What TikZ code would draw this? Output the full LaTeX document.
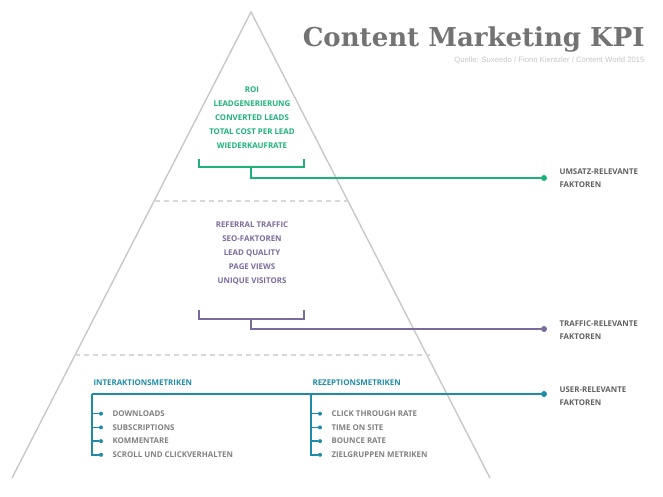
\documentclass[tikz,border=0pt]{standalone}
\usepackage{fontspec}
\setmainfont{Open Sans}
\newfontfamily\titlefont{DejaVu Serif}
\newfontfamily\srcfont{Liberation Sans}
\usetikzlibrary{positioning}
\definecolor{umsatz}{HTML}{1DB27A}
\definecolor{traffic}{HTML}{7B6A9C}
\definecolor{user}{HTML}{1E8CA8}
\definecolor{pyr}{HTML}{C8C8C8}
\definecolor{lbl}{HTML}{606060}

\begin{document}
\begin{tikzpicture}
[x=1pt, y=-1pt, every node/.style={font=\bfseries\fontsize{7.9}{9}\selectfont},
 pyramid line/.style={pyr, line width=1.4pt},
 level line/.style={pyr!70, dashed, dash pattern=on 5pt off 4pt, line width=1.2pt},
 bracket line/.style={line width=1.5pt},
 dot/.style={circle, fill, inner sep=0pt, minimum size=6pt},
 small dot/.style={circle, fill, inner sep=0pt, minimum size=4pt},
 metric/.style={lbl!80, anchor=west},
 factor/.style={lbl, anchor=west, align=left, font=\bfseries\fontsize{7.9}{13}\selectfont}]
    \useasboundingbox (0,0) rectangle (663,496);
    \coordinate (apex) at (251,12);
    \coordinate (bl) at (12,478);
    \coordinate (br) at (490,478);
    \draw[pyramid line] (bl) -- (apex) -- (br);
    \draw[level line] (155,201) -- (347,201);
    \draw[level line] (75,355) -- (430,355);
    % title
    \node[anchor=base east, gray!90!black, font=\titlefont\bfseries\fontsize{26}{28}\selectfont] (title) at (648,46) {Content Marketing KPI};
    \node[anchor=base east, gray!45, font=\srcfont\fontsize{7.7}{8}\selectfont] (source) at (648,62) {Quelle: Suxeedo / Fionn Kientzler / Content World 2015};
    % umsatz
    \foreach \t [count=\i] in {ROI, LEADGENERIERUNG, CONVERTED LEADS, TOTAL COST PER LEAD, WIEDERKAUFRATE}
        \node[umsatz] (u\i) at (252,76+14*\i) {\t};
    \coordinate (ua) at (199,159); \coordinate (ub) at (304,159);
    \coordinate (uc) at (251,167);
    \node[dot, umsatz] (udot) at (544,178) {};
    \draw[bracket line, umsatz] (ua) |- (uc) -| (ub);
    \draw[bracket line, umsatz] (uc) |- (udot);
    \node[factor] (ulbl) at (556,178) {UMSATZ-RELEVANTE\\FAKTOREN};
    % traffic
    \foreach \t [count=\i] in {REFERRAL TRAFFIC, SEO-FAKTOREN, LEAD QUALITY, PAGE VIEWS, UNIQUE VISITORS}
        \node[traffic] (t\i) at (252,211+14*\i) {\t};
    \coordinate (ta) at (199,310); \coordinate (tb) at (304,310);
    \coordinate (tc) at (251,319);
    \node[dot, traffic] (tdot) at (544,329) {};
    \draw[bracket line, traffic] (ta) |- (tc) -| (tb);
    \draw[bracket line, traffic] (tc) |- (tdot);
    \node[factor] (tlbl) at (556,330) {TRAFFIC-RELEVANTE\\FAKTOREN};
    % user
    \node[user, anchor=west] (inter) at (90,383) {INTERAKTIONSMETRIKEN};
    \node[user, anchor=west] (rezep) at (309,383) {REZEPTIONSMETRIKEN};
    \coordinate (ia) at (92,394); \coordinate (ra) at (311,394);
    \node[dot, user] (udot2) at (544,394) {};
    \draw[bracket line, user] (ia) -- (udot2);
    \node[factor] (ulbl2) at (556,396) {USER-RELEVANTE\\FAKTOREN};
    \foreach \t [count=\i] in {DOWNLOADS, SUBSCRIPTIONS, KOMMENTARE, SCROLL UND CLICKVERHALTEN} {
        \node[small dot, user] (id\i) at (101,400+13.7*\i) {};
        \node[metric] (im\i) at (109,400+13.7*\i) {\t};
        \draw[bracket line, user] (ia) |- (id\i);
    }
    \foreach \t [count=\i] in {CLICK THROUGH RATE, TIME ON SITE, BOUNCE RATE, ZIELGRUPPEN METRIKEN} {
        \node[small dot, user] (rd\i) at (320,400+13.7*\i) {};
        \node[metric] (rm\i) at (328,400+13.7*\i) {\t};
        \draw[bracket line, user] (ra) |- (rd\i);
    }
\end{tikzpicture}
\end{document}
